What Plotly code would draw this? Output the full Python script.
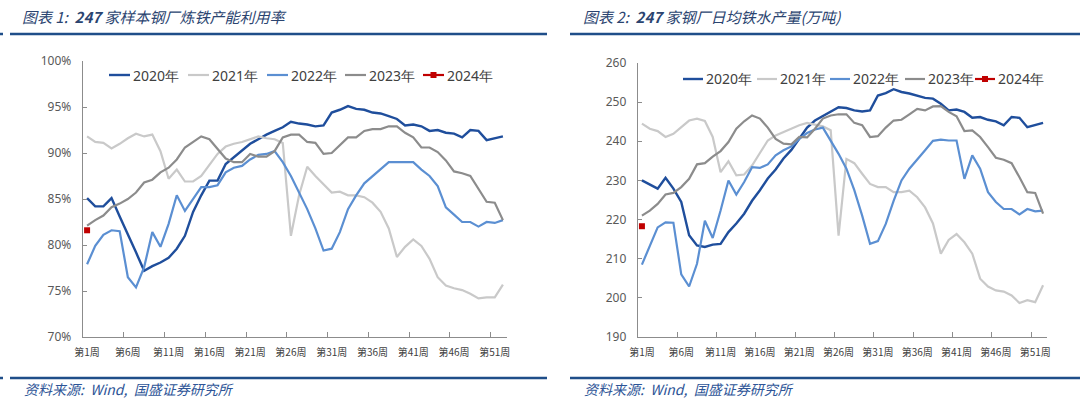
import plotly.graph_objects as go

weeks = list(range(1, 53))
tick_weeks = [1, 6, 11, 16, 21, 26, 31, 36, 41, 46, 51]
tick_labels = ["第%d周" % w for w in tick_weeks]
series_names = ["2020年", "2021年", "2022年", "2023年", "2024年"]

# Chart 1: capacity utilization (%)
util_2020 = [85.1, 84.2, 84.2, 85.1, 83.1, 81.2, 79.2, 77.2, 77.7, 78.1,
             78.6, 79.6, 81.0, 83.6, 85.4, 87.0, 87.0, 88.8, 89.5, 90.2,
             91.0, 91.5, 92.0, 92.4, 92.8, 93.4, 93.2, 93.1, 92.9, 93.0,
             94.4, 94.7, 95.1, 94.8, 94.7, 94.4, 94.3, 94.0, 93.7, 93.0,
             93.1, 92.9, 92.4, 92.5, 92.2, 92.1, 91.7, 92.5, 92.4, 91.4,
             91.6, 91.8]
util_2021 = [91.8, 91.2, 91.1, 90.5, 91.0, 91.6, 92.1, 91.8, 92.0, 90.2,
             87.2, 88.2, 86.9, 86.9, 87.5, 88.7, 89.9, 90.7, 91.0, 91.2,
             91.5, 91.8, 91.6, 91.5, 91.1, 81.0, 85.4, 88.5, 87.5, 86.6,
             85.7, 85.8, 85.4, 85.4, 85.2, 84.6, 83.6, 81.8, 78.7, 79.8,
             80.6, 79.9, 78.5, 76.5, 75.6, 75.3, 75.1, 74.7, 74.2, 74.3,
             74.3, 75.7]
util_2022 = [77.9, 79.9, 81.1, 81.6, 81.5, 76.5, 75.4, 77.6, 81.4, 79.8,
             82.3, 85.4, 83.7, 85.0, 86.3, 86.3, 86.5, 87.9, 88.4, 88.6,
             89.3, 89.8, 89.9, 90.2, 89.0, 87.5, 85.7, 83.9, 81.8, 79.4,
             79.6, 81.4, 83.9, 85.4, 86.7, 87.5, 88.2, 89.0, 89.0, 89.0,
             89.0, 88.2, 87.5, 86.4, 84.1, 83.3, 82.5, 82.5, 82.0, 82.5,
             82.4, 82.7]
util_2023 = [82.1, 82.7, 83.2, 84.1, 84.5, 85.0, 85.7, 86.8, 87.1, 87.9,
             88.4, 89.3, 90.6, 91.2, 91.8, 91.5, 90.5, 89.4, 89.0, 89.0,
             89.9, 89.6, 89.6, 90.2, 91.7, 92.0, 92.0, 91.2, 91.1, 89.9,
             90.0, 90.8, 91.7, 91.7, 92.4, 92.6, 92.6, 92.9, 92.9, 92.2,
             91.7, 90.6, 90.6, 90.1, 89.2, 88.0, 87.8, 87.5, 86.1, 84.7,
             84.6, 82.7]
util_2024 = [81.6]

# Chart 2: daily hot metal output (10k tonnes)
iron_2020 = [230.0, 229.0, 227.9, 230.7, 227.9, 224.5, 216.0, 213.4, 213.0, 213.6,
             213.8, 216.8, 219.0, 221.5, 224.8, 227.5, 230.5, 232.8, 235.6, 237.8,
             240.5, 243.5, 245.3, 246.4, 247.7, 248.7, 248.5, 247.9, 247.6, 247.9,
             251.7, 252.3, 253.3, 252.6, 252.2, 251.7, 251.1, 250.9, 249.6, 247.9,
             248.1, 247.5, 246.0, 246.2, 245.5, 245.1, 244.1, 246.2, 246.0, 243.6,
             244.1, 244.7]
iron_2021 = [244.5, 243.2, 242.6, 241.1, 241.9, 243.5, 245.3, 245.8, 245.2, 241.1,
             232.1, 234.9, 231.3, 231.5, 233.8, 237.0, 240.2, 241.5, 242.4, 243.2,
             244.1, 244.7, 244.3, 243.8, 242.8, 215.9, 235.5, 234.4, 231.7, 229.1,
             228.3, 228.3, 227.0, 227.0, 227.4, 225.7, 223.1, 219.0, 211.3, 214.8,
             216.3, 214.2, 211.3, 204.9, 202.9, 201.9, 201.6, 200.6, 198.7, 199.4,
             198.9, 203.2]
iron_2022 = [208.5, 213.4, 218.0, 219.3, 219.2, 206.0, 202.9, 208.7, 219.7, 215.3,
             222.3, 230.0, 226.4, 229.6, 233.4, 233.2, 234.1, 236.4, 237.7, 238.7,
             240.6, 242.1, 243.0, 243.5, 240.2, 236.8, 233.0, 227.5, 221.0, 213.8,
             214.5, 218.9, 224.8, 230.0, 233.0, 235.5, 237.7, 240.1, 240.4, 240.2,
             240.2, 230.4, 236.4, 233.0, 227.0, 224.5, 222.7, 222.7, 221.3, 222.7,
             222.1, 222.3]
iron_2023 = [221.0, 222.3, 224.0, 226.4, 226.8, 228.3, 230.4, 234.1, 234.4, 236.1,
             237.5, 239.8, 243.2, 245.1, 246.6, 245.8, 243.5, 240.6, 239.4, 239.2,
             241.1, 241.0, 243.2, 245.8, 246.6, 246.9, 246.9, 244.7, 244.1, 241.1,
             241.3, 243.5, 245.3, 245.5, 246.9, 248.3, 247.9, 248.9, 249.0, 247.5,
             246.4, 242.6, 242.8, 241.1, 238.5, 235.8, 235.3, 234.4, 230.8, 227.0,
             226.8, 221.5]
iron_2024 = [218.3]

colors = ["#1F4E9C", "#C9C9C9", "#5B8FD2", "#8C8C8C", "#C00000"]
widths = [2.4, 2.2, 2.2, 2.2, 2.2]

fig = go.Figure()

def add_panel(data, xa, ya):
    for name, vals, col, w in zip(series_names, data, colors, widths):
        if name == "2024年":
            fig.add_trace(go.Scatter(
                x=weeks[:len(vals)], y=vals, name=name, mode="markers",
                marker=dict(symbol="square", size=6, color=col),
                xaxis=xa, yaxis=ya, showlegend=False))
        else:
            fig.add_trace(go.Scatter(
                x=weeks[:len(vals)], y=vals, name=name, mode="lines",
                line=dict(color=col, width=w),
                xaxis=xa, yaxis=ya, showlegend=False))

add_panel([util_2020, util_2021, util_2022, util_2023, util_2024], "x", "y")
add_panel([iron_2020, iron_2021, iron_2022, iron_2023, iron_2024], "x2", "y2")

W, H = 1080, 402
def px(x):
    return x / W
def py(y):
    return 1 - y / H

axis_color = "#8C8C8C"
xcommon = dict(
    range=[0.5, 52.5], tickmode="array", tickvals=tick_weeks, ticktext=tick_labels,
    ticks="", tickangle=0, ticklabelstandoff=6, showline=True, linecolor=axis_color,
    linewidth=1.3, showgrid=False, zeroline=False,
    tickfont=dict(family="Noto Sans CJK SC", size=10, color="#404040"),
    minor=dict(tickmode="array", tickvals=[5.5 + 5 * k for k in range(10)],
               ticks="inside", ticklen=5, tickcolor=axis_color, tickwidth=1),
    fixedrange=True,
)
ycommon = dict(
    showline=True, linecolor=axis_color, linewidth=1.3, showgrid=False,
    zeroline=False, ticks="inside", ticklen=4, tickcolor=axis_color,
    ticklabelstandoff=8, fixedrange=True,
    tickfont=dict(family="Noto Sans", size=12, color="#595959"),
)

fig.update_layout(
    width=W, height=H, autosize=False,
    margin=dict(l=0, r=0, t=0, b=0, autoexpand=False),
    paper_bgcolor="white", plot_bgcolor="white",
    showlegend=False, hovermode=False,
    xaxis=dict(domain=[px(83), px(507)], anchor="y", **xcommon),
    yaxis=dict(domain=[py(337), py(61)], anchor="x", range=[70, 100],
               tickvals=[70, 75, 80, 85, 90, 95, 100],
               ticktext=["70%", "75%", "80%", "85%", "90%", "95%", "100%"], **ycommon),
    xaxis2=dict(domain=[px(638), px(1047)], anchor="y2", **xcommon),
    yaxis2=dict(domain=[py(337), py(63)], anchor="x2", range=[190, 260],
                tickvals=[190, 200, 210, 220, 230, 240, 250, 260], **ycommon),
)

# Legends (drawn as line samples + text, matching the original compact layout)
legend_font = dict(family="Noto Sans", size=14, color="#404040")
legend_left = dict(xs=[109, 188, 267, 345, 423], y=75, seg=21)
legend_right = dict(xs=[683, 757, 830, 905, 975], y=79, seg=20)
for leg in (legend_left, legend_right):
    for name, col, w, x0 in zip(series_names, colors, widths, leg["xs"]):
        yy = leg["y"]
        fig.add_shape(type="line", xref="paper", yref="paper",
                      x0=px(x0), x1=px(x0 + leg["seg"]), y0=py(yy), y1=py(yy),
                      line=dict(color=col, width=w))
        if name == "2024年":
            cx = x0 + leg["seg"] / 2
            fig.add_shape(type="rect", xref="paper", yref="paper",
                          x0=px(cx - 3), x1=px(cx + 3), y0=py(yy + 3), y1=py(yy - 3),
                          line=dict(width=0), fillcolor=col)
        fig.add_annotation(text=name, xref="paper", yref="paper",
                           x=px(x0 + leg["seg"] + 1), y=py(yy), xanchor="left",
                           yanchor="middle", showarrow=False, font=legend_font)

title_font = dict(family="Noto Sans CJK SC", size=15, color="#2B4470")
foot_font = dict(family="Noto Sans CJK SC", size=14, color="#2E5597")
fig.add_annotation(text="<i>图表 1:  <b>247</b> 家样本钢厂炼铁产能利用率</i>", xref="paper", yref="paper",
                   x=px(20), y=py(17), xanchor="left", yanchor="middle",
                   showarrow=False, font=title_font)
fig.add_annotation(text="<i>图表 2:  <b>247</b> 家钢厂日均铁水产量(万吨)</i>", xref="paper", yref="paper",
                   x=px(581), y=py(17), xanchor="left", yanchor="middle",
                   showarrow=False, font=title_font)
fig.add_annotation(text="<i>资料来源:  Wind,  国盛证券研究所</i>", xref="paper", yref="paper",
                   x=px(22), y=py(389), xanchor="left", yanchor="middle",
                   showarrow=False, font=foot_font)
fig.add_annotation(text="<i>资料来源:  Wind,  国盛证券研究所</i>", xref="paper", yref="paper",
                   x=px(582), y=py(389), xanchor="left", yanchor="middle",
                   showarrow=False, font=foot_font)

rule_color = "#1F4E89"
for (x0, x1) in [(0, 3), (10, 547), (570, 1080)]:
    for yy in (34, 378):
        fig.add_shape(type="line", xref="paper", yref="paper",
                      x0=px(x0), x1=px(x1), y0=py(yy), y1=py(yy),
                      line=dict(color=rule_color, width=2.5))

fig.write_html("out.html", config={"displayModeBar": False, "staticPlot": True},
               post_script="document.body.style.margin='0';document.body.style.overflow='hidden';")
